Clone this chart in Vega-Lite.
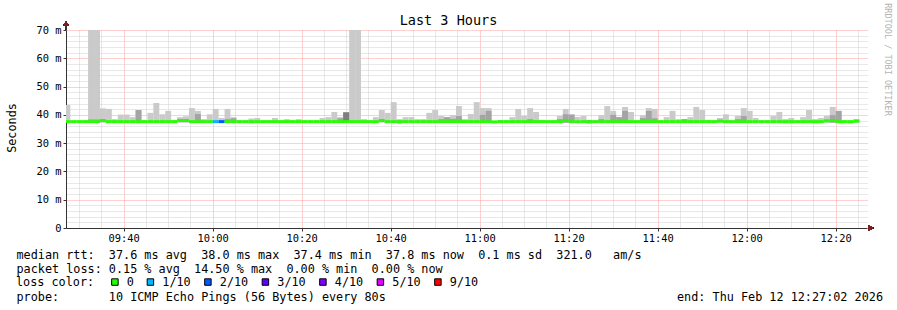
{
  "width": 801,
  "height": 198,
  "autosize": {"type": "none"},
  "padding": {"left": 66, "top": 30, "right": 30, "bottom": 82},
  "background": "white",
  "config": {"view": {"stroke": null}},
  "data": {"values": [
    {"s":"2026-02-12T09:26:40Z","e":"2026-02-12T09:28:00Z","lo":37.2,"hi":43.5,"med":37.6,"loss":"0"},
    {"s":"2026-02-12T09:28:00Z","e":"2026-02-12T09:29:20Z","lo":37.2,"hi":38.0,"med":37.6,"loss":"0"},
    {"s":"2026-02-12T09:29:20Z","e":"2026-02-12T09:30:40Z","lo":37.2,"hi":38.0,"med":37.6,"loss":"0"},
    {"s":"2026-02-12T09:30:40Z","e":"2026-02-12T09:32:00Z","lo":37.2,"hi":38.0,"med":37.6,"loss":"0"},
    {"s":"2026-02-12T09:32:00Z","e":"2026-02-12T09:33:20Z","lo":37.2,"hi":72,"m2":38.4,"med":37.6,"loss":"0"},
    {"s":"2026-02-12T09:33:20Z","e":"2026-02-12T09:34:40Z","lo":37.2,"hi":72,"m2":38.4,"med":37.6,"loss":"0"},
    {"s":"2026-02-12T09:34:40Z","e":"2026-02-12T09:36:00Z","lo":37.2,"hi":42.3,"med":38.0,"loss":"0"},
    {"s":"2026-02-12T09:36:00Z","e":"2026-02-12T09:37:20Z","lo":37.2,"hi":42.1,"med":37.6,"loss":"0"},
    {"s":"2026-02-12T09:37:20Z","e":"2026-02-12T09:38:40Z","lo":37.2,"hi":38.5,"med":37.6,"loss":"0"},
    {"s":"2026-02-12T09:38:40Z","e":"2026-02-12T09:40:00Z","lo":37.2,"hi":40.1,"med":37.6,"loss":"0"},
    {"s":"2026-02-12T09:40:00Z","e":"2026-02-12T09:41:20Z","lo":37.2,"hi":40.1,"med":37.6,"loss":"0"},
    {"s":"2026-02-12T09:41:20Z","e":"2026-02-12T09:42:40Z","lo":37.2,"hi":39.2,"med":37.6,"loss":"0"},
    {"s":"2026-02-12T09:42:40Z","e":"2026-02-12T09:44:00Z","lo":37.1,"hi":41.7,"m2":41.7,"med":37.6,"loss":"0"},
    {"s":"2026-02-12T09:44:00Z","e":"2026-02-12T09:45:20Z","lo":37.2,"hi":38.0,"med":37.6,"loss":"0"},
    {"s":"2026-02-12T09:45:20Z","e":"2026-02-12T09:46:40Z","lo":37.2,"hi":40.7,"med":37.6,"loss":"0"},
    {"s":"2026-02-12T09:46:40Z","e":"2026-02-12T09:48:00Z","lo":37.2,"hi":44.2,"med":37.6,"loss":"0"},
    {"s":"2026-02-12T09:48:00Z","e":"2026-02-12T09:49:20Z","lo":37.2,"hi":40.2,"med":37.6,"loss":"0"},
    {"s":"2026-02-12T09:49:20Z","e":"2026-02-12T09:50:40Z","lo":37.2,"hi":41.4,"med":37.6,"loss":"0"},
    {"s":"2026-02-12T09:50:40Z","e":"2026-02-12T09:52:00Z","lo":37.2,"hi":38.2,"med":37.6,"loss":"0"},
    {"s":"2026-02-12T09:52:00Z","e":"2026-02-12T09:53:20Z","lo":37.2,"hi":39.2,"med":38.0,"loss":"0"},
    {"s":"2026-02-12T09:53:20Z","e":"2026-02-12T09:54:40Z","lo":37.2,"hi":39.5,"med":38.0,"loss":"0"},
    {"s":"2026-02-12T09:54:40Z","e":"2026-02-12T09:56:00Z","lo":37.2,"hi":42.4,"med":37.6,"loss":"0"},
    {"s":"2026-02-12T09:56:00Z","e":"2026-02-12T09:57:20Z","lo":37.2,"hi":41.4,"m2":40.3,"med":37.6,"loss":"0"},
    {"s":"2026-02-12T09:57:20Z","e":"2026-02-12T09:58:40Z","lo":37.2,"hi":38.5,"med":37.6,"loss":"0"},
    {"s":"2026-02-12T09:58:40Z","e":"2026-02-12T10:00:00Z","lo":37.2,"hi":40.2,"med":37.6,"loss":"0"},
    {"s":"2026-02-12T10:00:00Z","e":"2026-02-12T10:01:20Z","lo":37.2,"hi":42.1,"med":37.6,"loss":"1/10"},
    {"s":"2026-02-12T10:01:20Z","e":"2026-02-12T10:02:40Z","lo":37.2,"hi":38.9,"med":37.6,"loss":"2/10"},
    {"s":"2026-02-12T10:02:40Z","e":"2026-02-12T10:04:00Z","lo":37.2,"hi":42.1,"m2":38.5,"med":37.6,"loss":"0"},
    {"s":"2026-02-12T10:04:00Z","e":"2026-02-12T10:05:20Z","lo":37.2,"hi":39.2,"m2":38.8,"med":37.6,"loss":"0"},
    {"s":"2026-02-12T10:05:20Z","e":"2026-02-12T10:06:40Z","lo":37.2,"hi":38.0,"med":37.6,"loss":"0"},
    {"s":"2026-02-12T10:06:40Z","e":"2026-02-12T10:08:00Z","lo":37.2,"hi":38.0,"med":37.6,"loss":"0"},
    {"s":"2026-02-12T10:08:00Z","e":"2026-02-12T10:09:20Z","lo":37.0,"hi":38.7,"med":37.6,"loss":"0"},
    {"s":"2026-02-12T10:09:20Z","e":"2026-02-12T10:10:40Z","lo":37.2,"hi":38.9,"med":37.6,"loss":"0"},
    {"s":"2026-02-12T10:10:40Z","e":"2026-02-12T10:12:00Z","lo":37.2,"hi":38.0,"med":37.6,"loss":"0"},
    {"s":"2026-02-12T10:12:00Z","e":"2026-02-12T10:13:20Z","lo":37.2,"hi":38.0,"med":37.6,"loss":"0"},
    {"s":"2026-02-12T10:13:20Z","e":"2026-02-12T10:14:40Z","lo":37.2,"hi":38.9,"med":37.6,"loss":"0"},
    {"s":"2026-02-12T10:14:40Z","e":"2026-02-12T10:16:00Z","lo":37.2,"hi":38.0,"med":37.6,"loss":"0"},
    {"s":"2026-02-12T10:16:00Z","e":"2026-02-12T10:17:20Z","lo":37.2,"hi":38.5,"med":37.6,"loss":"0"},
    {"s":"2026-02-12T10:17:20Z","e":"2026-02-12T10:18:40Z","lo":37.2,"hi":38.0,"med":37.6,"loss":"0"},
    {"s":"2026-02-12T10:18:40Z","e":"2026-02-12T10:20:00Z","lo":37.2,"hi":38.5,"med":37.6,"loss":"0"},
    {"s":"2026-02-12T10:20:00Z","e":"2026-02-12T10:21:20Z","lo":37.2,"hi":38.0,"med":37.6,"loss":"0"},
    {"s":"2026-02-12T10:21:20Z","e":"2026-02-12T10:22:40Z","lo":37.2,"hi":38.0,"med":37.6,"loss":"0"},
    {"s":"2026-02-12T10:22:40Z","e":"2026-02-12T10:24:00Z","lo":37.2,"hi":38.0,"med":37.6,"loss":"0"},
    {"s":"2026-02-12T10:24:00Z","e":"2026-02-12T10:25:20Z","lo":37.2,"hi":38.9,"med":37.6,"loss":"0"},
    {"s":"2026-02-12T10:25:20Z","e":"2026-02-12T10:26:40Z","lo":37.2,"hi":39.2,"med":37.6,"loss":"0"},
    {"s":"2026-02-12T10:26:40Z","e":"2026-02-12T10:28:00Z","lo":37.2,"hi":41.0,"med":37.6,"loss":"0"},
    {"s":"2026-02-12T10:28:00Z","e":"2026-02-12T10:29:20Z","lo":37.2,"hi":39.2,"m2":38.8,"med":37.6,"loss":"0"},
    {"s":"2026-02-12T10:29:20Z","e":"2026-02-12T10:30:40Z","lo":37.2,"hi":41.0,"m2":41.0,"d3":40.8,"med":37.6,"loss":"0"},
    {"s":"2026-02-12T10:30:40Z","e":"2026-02-12T10:32:00Z","lo":37.2,"hi":72,"med":37.6,"loss":"0"},
    {"s":"2026-02-12T10:32:00Z","e":"2026-02-12T10:33:20Z","lo":37.2,"hi":72,"med":37.6,"loss":"0"},
    {"s":"2026-02-12T10:33:20Z","e":"2026-02-12T10:34:40Z","lo":37.2,"hi":38.5,"med":37.6,"loss":"0"},
    {"s":"2026-02-12T10:34:40Z","e":"2026-02-12T10:36:00Z","lo":37.2,"hi":38.0,"med":37.6,"loss":"0"},
    {"s":"2026-02-12T10:36:00Z","e":"2026-02-12T10:37:20Z","lo":37.2,"hi":39.2,"med":37.6,"loss":"0"},
    {"s":"2026-02-12T10:37:20Z","e":"2026-02-12T10:38:40Z","lo":37.2,"hi":41.7,"med":38.0,"loss":"0"},
    {"s":"2026-02-12T10:38:40Z","e":"2026-02-12T10:40:00Z","lo":37.2,"hi":40.7,"med":37.6,"loss":"0"},
    {"s":"2026-02-12T10:40:00Z","e":"2026-02-12T10:41:20Z","lo":37.2,"hi":44.5,"med":37.6,"loss":"0"},
    {"s":"2026-02-12T10:41:20Z","e":"2026-02-12T10:42:40Z","lo":37.0,"hi":38.5,"m2":38.0,"med":37.6,"loss":"0"},
    {"s":"2026-02-12T10:42:40Z","e":"2026-02-12T10:44:00Z","lo":37.2,"hi":39.2,"med":37.6,"loss":"0"},
    {"s":"2026-02-12T10:44:00Z","e":"2026-02-12T10:45:20Z","lo":37.2,"hi":39.2,"med":37.6,"loss":"0"},
    {"s":"2026-02-12T10:45:20Z","e":"2026-02-12T10:46:40Z","lo":37.2,"hi":38.5,"med":37.6,"loss":"0"},
    {"s":"2026-02-12T10:46:40Z","e":"2026-02-12T10:48:00Z","lo":37.2,"hi":38.5,"med":37.6,"loss":"0"},
    {"s":"2026-02-12T10:48:00Z","e":"2026-02-12T10:49:20Z","lo":37.2,"hi":40.7,"med":37.6,"loss":"0"},
    {"s":"2026-02-12T10:49:20Z","e":"2026-02-12T10:50:40Z","lo":37.2,"hi":41.7,"med":37.6,"loss":"0"},
    {"s":"2026-02-12T10:50:40Z","e":"2026-02-12T10:52:00Z","lo":37.2,"hi":39.6,"m2":38.5,"med":37.6,"loss":"0"},
    {"s":"2026-02-12T10:52:00Z","e":"2026-02-12T10:53:20Z","lo":37.2,"hi":39.2,"m2":39.2,"med":37.6,"loss":"0"},
    {"s":"2026-02-12T10:53:20Z","e":"2026-02-12T10:54:40Z","lo":37.2,"hi":39.9,"m2":38.6,"med":37.6,"loss":"0"},
    {"s":"2026-02-12T10:54:40Z","e":"2026-02-12T10:56:00Z","lo":37.2,"hi":43.1,"m2":39.6,"med":37.6,"loss":"0"},
    {"s":"2026-02-12T10:56:00Z","e":"2026-02-12T10:57:20Z","lo":37.2,"hi":38.5,"med":37.6,"loss":"0"},
    {"s":"2026-02-12T10:57:20Z","e":"2026-02-12T10:58:40Z","lo":37.2,"hi":40.3,"med":37.6,"loss":"0"},
    {"s":"2026-02-12T10:58:40Z","e":"2026-02-12T11:00:00Z","lo":37.2,"hi":44.5,"med":37.6,"loss":"0"},
    {"s":"2026-02-12T11:00:00Z","e":"2026-02-12T11:01:20Z","lo":37.2,"hi":42.4,"m2":40.0,"med":37.6,"loss":"0"},
    {"s":"2026-02-12T11:01:20Z","e":"2026-02-12T11:02:40Z","lo":37.2,"hi":42.4,"m2":41.4,"med":37.6,"loss":"0"},
    {"s":"2026-02-12T11:02:40Z","e":"2026-02-12T11:04:00Z","lo":37.2,"hi":37.9,"med":37.5,"loss":"0"},
    {"s":"2026-02-12T11:04:00Z","e":"2026-02-12T11:05:20Z","lo":37.2,"hi":38.2,"med":37.6,"loss":"0"},
    {"s":"2026-02-12T11:05:20Z","e":"2026-02-12T11:06:40Z","lo":37.2,"hi":38.0,"med":37.6,"loss":"0"},
    {"s":"2026-02-12T11:06:40Z","e":"2026-02-12T11:08:00Z","lo":37.2,"hi":39.2,"med":37.6,"loss":"0"},
    {"s":"2026-02-12T11:08:00Z","e":"2026-02-12T11:09:20Z","lo":37.2,"hi":42.1,"med":37.6,"loss":"0"},
    {"s":"2026-02-12T11:09:20Z","e":"2026-02-12T11:10:40Z","lo":37.2,"hi":39.6,"med":37.6,"loss":"0"},
    {"s":"2026-02-12T11:10:40Z","e":"2026-02-12T11:12:00Z","lo":37.2,"hi":42.4,"m2":38.5,"med":37.6,"loss":"0"},
    {"s":"2026-02-12T11:12:00Z","e":"2026-02-12T11:13:20Z","lo":37.2,"hi":41.0,"med":37.6,"loss":"0"},
    {"s":"2026-02-12T11:13:20Z","e":"2026-02-12T11:14:40Z","lo":37.2,"hi":38.2,"med":37.6,"loss":"0"},
    {"s":"2026-02-12T11:14:40Z","e":"2026-02-12T11:16:00Z","lo":37.2,"hi":38.0,"med":37.6,"loss":"0"},
    {"s":"2026-02-12T11:16:00Z","e":"2026-02-12T11:17:20Z","lo":37.2,"hi":38.0,"med":37.6,"loss":"0"},
    {"s":"2026-02-12T11:17:20Z","e":"2026-02-12T11:18:40Z","lo":37.2,"hi":39.6,"m2":38.5,"med":37.6,"loss":"0"},
    {"s":"2026-02-12T11:18:40Z","e":"2026-02-12T11:20:00Z","lo":37.2,"hi":42.1,"m2":40.2,"med":38.0,"loss":"0"},
    {"s":"2026-02-12T11:20:00Z","e":"2026-02-12T11:21:20Z","lo":37.2,"hi":40.3,"m2":40.0,"med":37.6,"loss":"0"},
    {"s":"2026-02-12T11:21:20Z","e":"2026-02-12T11:22:40Z","lo":37.2,"hi":39.2,"med":37.6,"loss":"0"},
    {"s":"2026-02-12T11:22:40Z","e":"2026-02-12T11:24:00Z","lo":37.2,"hi":39.6,"med":37.6,"loss":"0"},
    {"s":"2026-02-12T11:24:00Z","e":"2026-02-12T11:25:20Z","lo":37.0,"hi":38.2,"m2":38.2,"med":37.6,"loss":"0"},
    {"s":"2026-02-12T11:25:20Z","e":"2026-02-12T11:26:40Z","lo":37.2,"hi":38.0,"med":37.6,"loss":"0"},
    {"s":"2026-02-12T11:26:40Z","e":"2026-02-12T11:28:00Z","lo":37.2,"hi":39.9,"m2":38.5,"med":37.6,"loss":"0"},
    {"s":"2026-02-12T11:28:00Z","e":"2026-02-12T11:29:20Z","lo":37.2,"hi":43.1,"med":37.6,"loss":"0"},
    {"s":"2026-02-12T11:29:20Z","e":"2026-02-12T11:30:40Z","lo":37.2,"hi":41.4,"m2":40.0,"med":37.6,"loss":"0"},
    {"s":"2026-02-12T11:30:40Z","e":"2026-02-12T11:32:00Z","lo":37.2,"hi":39.2,"m2":39.2,"med":37.6,"loss":"0"},
    {"s":"2026-02-12T11:32:00Z","e":"2026-02-12T11:33:20Z","lo":37.2,"hi":42.8,"m2":41.4,"med":37.6,"loss":"0"},
    {"s":"2026-02-12T11:33:20Z","e":"2026-02-12T11:34:40Z","lo":37.2,"hi":41.0,"med":37.6,"loss":"0"},
    {"s":"2026-02-12T11:34:40Z","e":"2026-02-12T11:36:00Z","lo":37.2,"hi":38.0,"med":37.6,"loss":"0"},
    {"s":"2026-02-12T11:36:00Z","e":"2026-02-12T11:37:20Z","lo":37.2,"hi":39.9,"m2":38.9,"med":37.6,"loss":"0"},
    {"s":"2026-02-12T11:37:20Z","e":"2026-02-12T11:38:40Z","lo":37.2,"hi":42.4,"m2":41.4,"med":37.6,"loss":"0"},
    {"s":"2026-02-12T11:38:40Z","e":"2026-02-12T11:40:00Z","lo":37.2,"hi":42.1,"m2":38.8,"med":37.6,"loss":"0"},
    {"s":"2026-02-12T11:40:00Z","e":"2026-02-12T11:41:20Z","lo":37.2,"hi":38.0,"med":37.6,"loss":"0"},
    {"s":"2026-02-12T11:41:20Z","e":"2026-02-12T11:42:40Z","lo":37.2,"hi":39.2,"med":37.6,"loss":"0"},
    {"s":"2026-02-12T11:42:40Z","e":"2026-02-12T11:44:00Z","lo":37.2,"hi":41.4,"med":37.6,"loss":"0"},
    {"s":"2026-02-12T11:44:00Z","e":"2026-02-12T11:45:20Z","lo":37.2,"hi":38.5,"med":37.6,"loss":"0"},
    {"s":"2026-02-12T11:45:20Z","e":"2026-02-12T11:46:40Z","lo":37.2,"hi":38.5,"m2":38.5,"med":37.6,"loss":"0"},
    {"s":"2026-02-12T11:46:40Z","e":"2026-02-12T11:48:00Z","lo":37.2,"hi":39.2,"med":37.6,"loss":"0"},
    {"s":"2026-02-12T11:48:00Z","e":"2026-02-12T11:49:20Z","lo":37.2,"hi":42.8,"med":37.6,"loss":"0"},
    {"s":"2026-02-12T11:49:20Z","e":"2026-02-12T11:50:40Z","lo":37.2,"hi":41.7,"med":37.6,"loss":"0"},
    {"s":"2026-02-12T11:50:40Z","e":"2026-02-12T11:52:00Z","lo":37.2,"hi":38.2,"med":37.6,"loss":"0"},
    {"s":"2026-02-12T11:52:00Z","e":"2026-02-12T11:53:20Z","lo":37.2,"hi":38.0,"med":37.6,"loss":"0"},
    {"s":"2026-02-12T11:53:20Z","e":"2026-02-12T11:54:40Z","lo":37.2,"hi":38.9,"med":37.8,"loss":"0"},
    {"s":"2026-02-12T11:54:40Z","e":"2026-02-12T11:56:00Z","lo":37.2,"hi":40.2,"med":37.6,"loss":"0"},
    {"s":"2026-02-12T11:56:00Z","e":"2026-02-12T11:57:20Z","lo":37.2,"hi":38.0,"med":37.6,"loss":"0"},
    {"s":"2026-02-12T11:57:20Z","e":"2026-02-12T11:58:40Z","lo":37.2,"hi":39.6,"m2":38.5,"med":37.6,"loss":"0"},
    {"s":"2026-02-12T11:58:40Z","e":"2026-02-12T12:00:00Z","lo":37.2,"hi":42.4,"m2":39.6,"med":37.6,"loss":"0"},
    {"s":"2026-02-12T12:00:00Z","e":"2026-02-12T12:01:20Z","lo":37.2,"hi":41.4,"med":37.6,"loss":"0"},
    {"s":"2026-02-12T12:01:20Z","e":"2026-02-12T12:02:40Z","lo":37.2,"hi":38.9,"med":37.6,"loss":"0"},
    {"s":"2026-02-12T12:02:40Z","e":"2026-02-12T12:04:00Z","lo":37.2,"hi":38.0,"med":37.6,"loss":"0"},
    {"s":"2026-02-12T12:04:00Z","e":"2026-02-12T12:05:20Z","lo":37.2,"hi":38.0,"med":37.6,"loss":"0"},
    {"s":"2026-02-12T12:05:20Z","e":"2026-02-12T12:06:40Z","lo":37.2,"hi":39.6,"med":37.6,"loss":"0"},
    {"s":"2026-02-12T12:06:40Z","e":"2026-02-12T12:08:00Z","lo":37.2,"hi":41.0,"med":37.6,"loss":"0"},
    {"s":"2026-02-12T12:08:00Z","e":"2026-02-12T12:09:20Z","lo":37.0,"hi":38.5,"med":37.6,"loss":"0"},
    {"s":"2026-02-12T12:09:20Z","e":"2026-02-12T12:10:40Z","lo":37.0,"hi":38.9,"med":37.6,"loss":"0"},
    {"s":"2026-02-12T12:10:40Z","e":"2026-02-12T12:12:00Z","lo":37.2,"hi":38.0,"med":37.6,"loss":"0"},
    {"s":"2026-02-12T12:12:00Z","e":"2026-02-12T12:13:20Z","lo":37.2,"hi":39.2,"med":37.6,"loss":"0"},
    {"s":"2026-02-12T12:13:20Z","e":"2026-02-12T12:14:40Z","lo":37.2,"hi":41.7,"med":37.6,"loss":"0"},
    {"s":"2026-02-12T12:14:40Z","e":"2026-02-12T12:16:00Z","lo":37.0,"hi":38.5,"med":37.6,"loss":"0"},
    {"s":"2026-02-12T12:16:00Z","e":"2026-02-12T12:17:20Z","lo":37.2,"hi":38.9,"med":37.6,"loss":"0"},
    {"s":"2026-02-12T12:17:20Z","e":"2026-02-12T12:18:40Z","lo":37.2,"hi":39.6,"med":37.9,"loss":"0"},
    {"s":"2026-02-12T12:18:40Z","e":"2026-02-12T12:20:00Z","lo":37.2,"hi":42.8,"m2":39.9,"med":38.0,"loss":"0"},
    {"s":"2026-02-12T12:20:00Z","e":"2026-02-12T12:21:20Z","lo":37.2,"hi":41.4,"m2":41.4,"med":37.6,"loss":"0"},
    {"s":"2026-02-12T12:21:20Z","e":"2026-02-12T12:22:40Z","lo":37.2,"hi":38.0,"med":37.6,"loss":"0"},
    {"s":"2026-02-12T12:22:40Z","e":"2026-02-12T12:24:00Z","lo":37.0,"hi":38.0,"med":37.6,"loss":"0"},
    {"s":"2026-02-12T12:24:00Z","e":"2026-02-12T12:25:20Z","lo":37.2,"hi":38.5,"med":37.8,"loss":"0"}
  ]},
  "resolve": {"scale": {"x": "shared", "y": "shared"}, "axis": {"x": "independent", "y": "independent"}},
  "layer": [
    {
      "mark": {"type": "rect", "color": "#cacaca", "clip": true},
      "encoding": {
        "x": {"field": "s", "type": "temporal",
          "scale": {"type": "utc", "domain": [1770888422000, 1770899222000]},
          "axis": {
            "orient": "bottom",
            "values": [1770888600000,1770888900000,1770889200000,1770889500000,1770889800000,1770890100000,1770890400000,1770890700000,1770891000000,1770891300000,1770891600000,1770891900000,1770892200000,1770892500000,1770892800000,1770893100000,1770893400000,1770893700000,1770894000000,1770894300000,1770894600000,1770894900000,1770895200000,1770895500000,1770895800000,1770896100000,1770896400000,1770896700000,1770897000000,1770897300000,1770897600000,1770897900000,1770898200000,1770898500000,1770898800000,1770899100000],
            "format": "%H:%M",
            "labelExpr": "utcminutes(datum.value) % 20 === 0 ? datum.label : ''",
            "labelFont": "DejaVu Sans Mono", "labelFontSize": 10.4, "labelColor": "black",
            "labelPadding": 2, "labelFlush": false, "labelOverlap": false,
            "tickSize": 3,
            "tickColor": {"condition": {"test": "utcminutes(datum.value) % 20 === 0", "value": "#333333"}, "value": "transparent"},
            "domainColor": "#333333",
            "grid": true,
            "gridColor": {"condition": {"test": "utcminutes(datum.value) % 20 === 0", "value": "#ffa0a0"}, "value": "#d0d0d0"},
            "gridDash": [1, 1], "gridOpacity": 1, "gridWidth": 1,
            "title": [
              "median rtt:\u00a0\u00a037.6 ms avg\u00a0\u00a038.0 ms max\u00a0\u00a037.4 ms min\u00a0\u00a037.8 ms now\u00a0\u00a00.1 ms sd\u00a0\u00a0321.0\u00a0\u00a0\u00a0am/s",
              "packet loss: 0.15 % avg\u00a0\u00a014.50 % max\u00a0\u00a00.00 % min\u00a0\u00a00.00 % now"
            ],
            "titleFont": "DejaVu Sans Mono", "titleFontSize": 11.8, "titleFontWeight": "normal", "titleColor": "black",
            "titleAlign": "left", "titleAnchor": "start", "titleBaseline": "alphabetic",
            "titleX": -50, "titleY": 30, "titleLineHeight": 14, "titleAngle": 0
          }
        },
        "x2": {"field": "e"},
        "y": {"field": "hi", "type": "quantitative",
          "scale": {"domain": [0, 70], "nice": false, "zero": false},
          "axis": {
            "orient": "left",
            "values": [0,2,4,6,8,10,12,14,16,18,20,22,24,26,28,30,32,34,36,38,40,42,44,46,48,50,52,54,56,58,60,62,64,66,68,70],
            "labelExpr": "datum.value % 10 === 0 ? (datum.value === 0 ? '0' : datum.value + ' m') : ''",
            "labelFont": "DejaVu Sans Mono", "labelFontSize": 10.4, "labelColor": "black",
            "labelPadding": 2, "labelFlush": false, "labelOverlap": false,
            "tickSize": 3,
            "tickColor": {"condition": {"test": "datum.value % 10 === 0", "value": "#333333"}, "value": "transparent"},
            "domainColor": "#333333",
            "grid": true,
            "gridColor": {"condition": {"test": "datum.value % 10 === 0", "value": "#ffa0a0"}, "value": "#d0d0d0"},
            "gridDash": [1, 1], "gridOpacity": 1, "gridWidth": 1,
            "title": "Seconds",
            "titleFont": "DejaVu Sans Mono", "titleFontSize": 11.8, "titleFontWeight": "normal", "titleColor": "black",
            "titleAngle": 270, "titleAlign": "center", "titleBaseline": "alphabetic",
            "titleX": -51, "titleY": 97.5
          }
        },
        "y2": {"field": "lo"}
      }
    },
    {
      "mark": {"type": "rect", "color": "#a4a4a4", "clip": true},
      "encoding": {
        "x": {"field": "s", "type": "temporal",
          "axis": {
            "orient": "bottom", "labels": false, "ticks": false, "domain": false, "grid": false,
            "title": "probe:\u00a0\u00a0\u00a0\u00a0\u00a0\u00a0\u00a010 ICMP Echo Pings (56 Bytes) every 80s\u00a0\u00a0\u00a0\u00a0\u00a0\u00a0\u00a0\u00a0\u00a0\u00a0\u00a0\u00a0\u00a0\u00a0\u00a0\u00a0\u00a0\u00a0\u00a0\u00a0\u00a0\u00a0\u00a0\u00a0\u00a0\u00a0\u00a0\u00a0\u00a0\u00a0\u00a0\u00a0\u00a0\u00a0\u00a0\u00a0\u00a0\u00a0\u00a0\u00a0\u00a0end: Thu Feb 12 12:27:02 2026",
            "titleFont": "DejaVu Sans Mono", "titleFontSize": 11.8, "titleFontWeight": "normal", "titleColor": "black",
            "titleAlign": "left", "titleAnchor": "start", "titleBaseline": "alphabetic",
            "titleX": -50, "titleY": 72, "titleAngle": 0
          }
        },
        "x2": {"field": "e"},
        "y": {"field": "m2", "type": "quantitative", "axis": null},
        "y2": {"field": "lo"}
      }
    },
    {
      "mark": {"type": "rect", "color": "#7e7e7e", "clip": true},
      "encoding": {
        "x": {"field": "s", "type": "temporal", "axis": null},
        "x2": {"field": "e"},
        "y": {"field": "d3", "type": "quantitative", "axis": null},
        "y2": {"field": "lo"}
      }
    },
    {
      "mark": {"type": "rect", "clip": true, "yOffset": 1.5, "y2Offset": -1.5},
      "encoding": {
        "x": {"field": "s", "type": "temporal",
          "axis": {
            "orient": "top", "labels": false, "ticks": false, "domain": false, "grid": false,
            "title": "Last 3 Hours",
            "titleFont": "DejaVu Sans Mono", "titleFontSize": 13.5, "titleFontWeight": "normal", "titleColor": "black",
            "titleAlign": "center", "titleBaseline": "alphabetic", "titleAngle": 0,
            "titleX": 382, "titleY": -6
          }
        },
        "x2": {"field": "e"},
        "y": {"field": "med", "type": "quantitative",
          "axis": {
            "orient": "right", "labels": false, "ticks": false, "domain": false, "grid": false,
            "title": "RRDTOOL / TOBI OETIKER",
            "titleFont": "DejaVu Sans Mono", "titleFontSize": 8.5, "titleFontWeight": "normal", "titleColor": "#b4b4b4",
            "titleAngle": 90, "titleAlign": "center", "titleBaseline": "alphabetic",
            "titleX": 17.5, "titleY": 29
          }
        },
        "y2": {"field": "med"},
        "color": {"field": "loss", "type": "nominal",
          "scale": {"domain": ["0", "1/10", "2/10", "3/10", "4/10", "5/10", "9/10"],
                    "range": ["#26ff00", "#00b8ff", "#0059ff", "#5e00ff", "#7e00ff", "#dd00ff", "#ff0000"]},
          "legend": {
            "orient": "none", "legendX": -50, "legendY": 246, "direction": "horizontal",
            "title": "loss color:", "titleOrient": "left",
            "titleFont": "DejaVu Sans Mono", "titleFontSize": 11.8, "titleFontWeight": "normal", "titleColor": "black",
            "titlePadding": 14, "titleBaseline": "middle",
            "labelFont": "DejaVu Sans Mono", "labelFontSize": 11.8, "labelColor": "black", "labelOffset": 6,
            "symbolType": "square", "symbolSize": 42, "symbolStrokeWidth": 1, "symbolStrokeColor": "black", "symbolOpacity": 1,
            "columnPadding": 10.5, "padding": 0
          }
        }
      }
    },
    {
      "mark": {"type": "rule", "color": "#333333", "strokeWidth": 1},
      "encoding": {
        "x": {"datum": 1770888422000, "type": "temporal", "axis": null},
        "y": {"datum": 70, "type": "quantitative", "axis": null},
        "y2": {"datum": 71.5}
      }
    },
    {
      "mark": {"type": "point", "shape": "triangle-up", "filled": true, "size": 28, "color": "#7f1f1f", "opacity": 1},
      "encoding": {
        "x": {"datum": 1770888422000, "type": "temporal", "axis": null},
        "y": {"datum": 72.3, "type": "quantitative", "axis": null}
      }
    },
    {
      "mark": {"type": "point", "shape": "triangle-right", "filled": true, "size": 28, "color": "#7f1f1f", "opacity": 1},
      "encoding": {
        "x": {"datum": 1770899276000, "type": "temporal", "axis": null},
        "y": {"datum": 0, "type": "quantitative", "axis": null}
      }
    }
  ]
}
